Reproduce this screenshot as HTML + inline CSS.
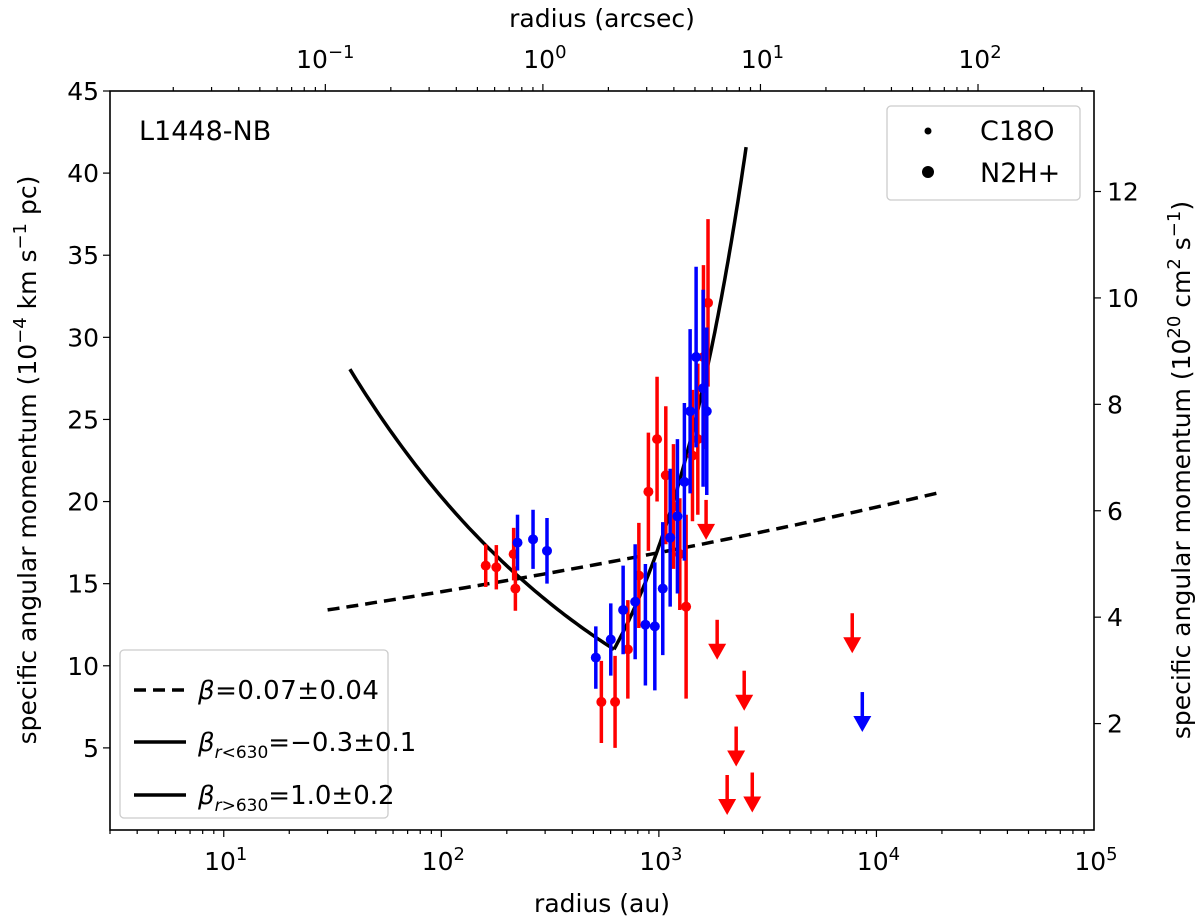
<!DOCTYPE html>
<html><head><meta charset="utf-8"><style>
body{margin:0;background:#fff}
svg{display:block;font-family:"DejaVu Sans","Liberation Sans",sans-serif}
</style></head><body>
<svg id="chart" width="1200" height="921" viewBox="0 0 1200 921" xmlns="http://www.w3.org/2000/svg"></svg>
<script>
// ---- data ----
const redR   = [160,179,215,219,544,629,720,809,895,981,1076,1167,1248,1334,1427,1510,1603,1682];
const redJ   = [16.1,16.0,16.8,14.7,7.8,7.8,11.0,15.5,20.6,23.8,21.6,19.7,16.8,13.6,22.8,23.8,28.8,32.1];
const redErr = [1.3,1.35,1.6,1.35,2.5,2.8,3.0,3.2,3.6,3.8,4.2,3.8,3.4,5.6,4.0,4.6,5.6,5.1];
const blueR   = [224,264,306,513,601,685,778,867,958,1042,1127,1217,1310,1392,1483,1597,1660];
const blueJ   = [17.5,17.7,17.0,10.5,11.6,13.4,13.9,12.5,12.4,14.7,17.8,19.1,21.2,25.5,28.8,26.9,25.5];
const blueErr = [1.7,1.8,2.0,1.9,2.2,2.7,3.5,3.7,3.9,4.05,4.2,4.7,4.8,5.0,5.5,6.0,5.1];
const redLimR = [1648,1853,2467,2266,2060,2687,7740];
const redLimJ = [20.1,12.8,9.7,6.3,3.35,3.5,13.2];
const blueLimR = [8610];
const blueLimJ = [8.4];
// fits: [r_start, r_end, j_at_pivot, pivot_r, slope]
const fitDashed = [30,20000,13.4,30,0.066];
const fitInner  = [38,622,11.0,622,-0.335];
const fitOuter  = [622,2518,11.0,622,0.951];
const yTicks = [5,10,15,20,25,30,35,40,45];
const y2Ticks = [2,4,6,8,10,12];
const xDecades = [1,2,3,4,5];
const arcDecades = [-1,0,1,2];

// ---- axes ----
const L=110,R=1094,T=91,B=830;
const xMinLog=Math.log10(3), xMaxLog=5;
const px = r => L+(Math.log10(r)-xMinLog)/(xMaxLog-xMinLog)*(R-L);
const py = j => B-(j/45)*(B-T);
const DIST=293, CONV=3.24;
const FS=25, SS=18;
const svg=document.getElementById('chart');
const NS='http://www.w3.org/2000/svg';
function el(tag,attrs,parent){const e=document.createElementNS(NS,tag);for(const k in attrs)e.setAttribute(k,attrs[k]);(parent||svg).appendChild(e);return e;}
function txt(s,x,y,attrs,parent){const e=el('text',Object.assign({x:x,y:y,'font-size':FS,fill:'#000'},attrs||{}),parent);e.innerHTML=s;return e;}

const plot=el('g',{});



function drawFit(f,dash,name){
  let d='';
  for(let i=0;i<=80;i++){const lr=Math.log10(f[0])+(Math.log10(f[1])-Math.log10(f[0]))*i/80;const r=Math.pow(10,lr);
    const j=f[2]*Math.pow(r/f[3],f[4]);d+=(i?'L':'M')+px(r).toFixed(1)+','+py(j).toFixed(1);}
  const p=el('path',{d:d,fill:'none',stroke:'#000','stroke-width':3.5,'stroke-dasharray':dash||'none'},plot);
  
  
}
drawFit(fitDashed,'12,7','fit-dashed');
drawFit(fitInner,null,'fit-inner');
drawFit(fitOuter,null,'fit-outer');

function drawPts(rs,js,es,col,name){
  rs.forEach((r,i)=>{const g=el('g',{},plot);
    
    
    const x=px(r);
    el('line',{x1:x,x2:x,y1:py(js[i]+es[i]),y2:py(js[i]-es[i]),stroke:col,'stroke-width':3.5},g);
    el('circle',{cx:x,cy:py(js[i]),r:5,fill:col},g);});
}
drawPts(redR,redJ,redErr,'#ff0000','red');
drawPts(blueR,blueJ,blueErr,'#0000ff','blue');

function drawLims(rs,js,col,name){
  rs.forEach((r,i)=>{const g=el('g',{},plot);
    
    
    const x=px(r),y=py(js[i]);
    el('line',{x1:x,x2:x,y1:y,y2:y+26,stroke:col,'stroke-width':3.5},g);
    el('polygon',{points:`${x-9},${y+24} ${x+9},${y+24} ${x},${y+40}`,fill:col},g);});
}
drawLims(redLimR,redLimJ,'#ff0000','red');
drawLims(blueLimR,blueLimJ,'#0000ff','blue');

const fr=el('rect',{x:L,y:T,width:R-L,height:B-T,fill:'none',stroke:'#000','stroke-width':1.6});



// bottom x ticks
const xa=el('g',{});


for(let d=0;d<=4;d++)for(let m=1;m<10;m++){const r=m*Math.pow(10,d);if(r<3||r>1e5)continue;const x=px(r);
  el('line',{x1:x,x2:x,y1:B,y2:B+(m==1?7:4),stroke:'#000','stroke-width':1.2},xa);}
xDecades.forEach(d=>{txt(`10<tspan dy="-10" font-size="${SS}">${d}</tspan>`,px(Math.pow(10,d))+2,870,{'text-anchor':'middle'},xa);});
const xt=txt('radius (au)',602,912,{'text-anchor':'middle'});



// top x ticks (arcsec)
const ta=el('g',{});


for(let d=-2;d<=2;d++)for(let m=1;m<10;m++){const r=m*Math.pow(10,d)*DIST;if(r<3||r>1e5)continue;const x=px(r);
  el('line',{x1:x,x2:x,y1:T,y2:T-(m==1?7:4),stroke:'#000','stroke-width':1.2},ta);}
arcDecades.forEach(d=>{txt(`10<tspan dy="-10" font-size="${SS}">${d<0?'\u2212'+(-d):d}</tspan>`,px(Math.pow(10,d)*DIST)+(d<0?0:2),68,{'text-anchor':'middle'},ta);});
const tt=txt('radius (arcsec)',602,27,{'text-anchor':'middle'});



// left y
const ya=el('g',{});


yTicks.forEach(v=>{const y=py(v);el('line',{x1:L-7,x2:L,y1:y,y2:y,stroke:'#000','stroke-width':1.2},ya);
  txt(v,L-11,y+9,{'text-anchor':'end'},ya);});
const yt=txt(`specific angular momentum (10<tspan dy="-10" font-size="${SS}">\u22124</tspan><tspan dy="10"> km s</tspan><tspan dy="-10" font-size="${SS}">\u22121</tspan><tspan dy="10"> pc)</tspan>`,0,0,{'text-anchor':'middle',transform:'translate(36,460) rotate(-90)'});



// right y
const y2=el('g',{});


y2Ticks.forEach(v=>{const y=py(v*CONV);el('line',{x1:R,x2:R+7,y1:y,y2:y,stroke:'#000','stroke-width':1.2},y2);
  txt(v,R+13,y+9,{},y2);});
const y2t=txt(`specific angular momentum (10<tspan dy="-10" font-size="${SS}">20</tspan><tspan dy="10"> cm</tspan><tspan dy="-10" font-size="${SS}">2</tspan><tspan dy="10"> s</tspan><tspan dy="-10" font-size="${SS}">\u22121</tspan><tspan dy="10">)</tspan>`,0,0,{'text-anchor':'middle',transform:'translate(1190,470) rotate(-90)'});



const sl=txt('L1448-NB',139,140,{'font-size':27});



// legend top-right
const lg1=el('g',{});


el('rect',{x:887,y:106,width:193,height:94,rx:4,fill:'#fff',stroke:'#ccc','stroke-width':1.3},lg1);
el('circle',{cx:928,cy:131,r:3.5,fill:'#000'},lg1);
txt('C18O',980,140,{'font-size':27},lg1);
el('circle',{cx:928,cy:172,r:6,fill:'#000'},lg1);
txt('N2H+',980,182,{'font-size':27},lg1);

// legend bottom-left
const lg2=el('g',{});


el('rect',{x:120,y:650,width:268,height:168,rx:4,fill:'#fff',stroke:'#ccc','stroke-width':1.3},lg2);
el('line',{x1:134,x2:186,y1:690,y2:690,stroke:'#000','stroke-width':3.5,'stroke-dasharray':'12,7'},lg2);
el('line',{x1:134,x2:186,y1:742,y2:742,stroke:'#000','stroke-width':3.5},lg2);
el('line',{x1:134,x2:186,y1:795,y2:795,stroke:'#000','stroke-width':3.5},lg2);
txt('<tspan font-style="italic">β</tspan>=0.07±0.04',198,699,{'font-size':26,'letter-spacing':'0.5'},lg2);
txt('<tspan font-style="italic">β</tspan><tspan dy="7" font-size="17" font-style="italic">r</tspan><tspan font-size="17">&lt;630</tspan><tspan dy="-7">=−0.3±0.1</tspan>',198,751,{'font-size':26},lg2);
txt('<tspan font-style="italic">β</tspan><tspan dy="7" font-size="17" font-style="italic">r</tspan><tspan font-size="17">&gt;630</tspan><tspan dy="-7">=1.0±0.2</tspan>',198,804,{'font-size':26},lg2);
</script>
</body></html>
